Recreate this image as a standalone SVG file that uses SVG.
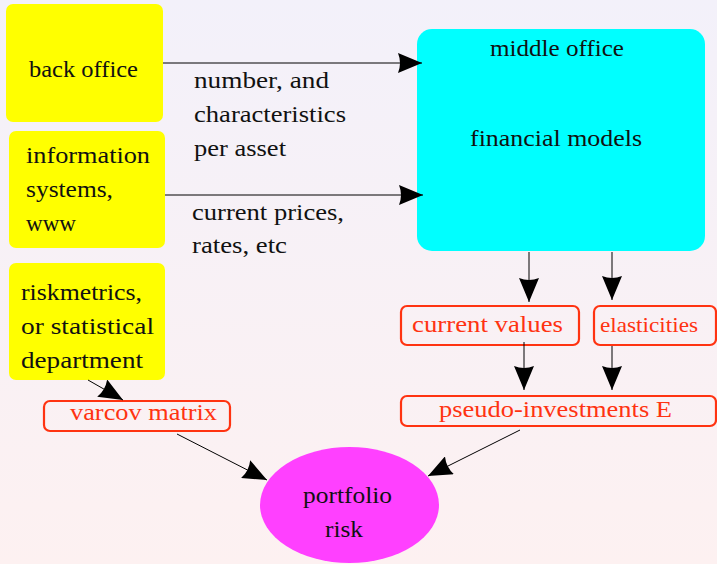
<svg xmlns="http://www.w3.org/2000/svg" width="717" height="564" viewBox="0 0 717 564" font-family="Liberation Serif" font-size="23.5">
<defs>
<linearGradient id="bg" x1="0" y1="0" x2="0" y2="1">
<stop offset="0" stop-color="#f3f1fa"/>
<stop offset="1" stop-color="#fdf1f1"/>
</linearGradient>
<marker id="ah" markerUnits="userSpaceOnUse" markerWidth="24" markerHeight="20" refX="24" refY="10" orient="auto" viewBox="0 0 24 20">
<path d="M0,0 L24,10 L0,20 Q4,10 0,0 z" fill="#000"/>
</marker>
<style>
text{fill:#111;}
.red text{fill:#ff3311;}
.ybox{fill:#ffff00;}
.rbox{fill:none;stroke:#ff3311;stroke-width:2.2;}
.conn line{stroke:#000;stroke-width:1;marker-end:url(#ah);}
</style>
</defs>
<rect x="0" y="0" width="717" height="564" fill="url(#bg)"/>

<g id="back-office">
<rect class="ybox" x="6" y="4" width="157" height="118" rx="7"/>
<text x="29" y="77" textLength="109" lengthAdjust="spacingAndGlyphs">back office</text>
</g>

<g id="information-systems">
<rect class="ybox" x="9" y="131" width="156" height="117" rx="7"/>
<text x="26" y="163" textLength="124" lengthAdjust="spacingAndGlyphs">information</text>
<text x="26" y="197" textLength="87" lengthAdjust="spacingAndGlyphs">systems,</text>
<text x="26" y="231" textLength="50" lengthAdjust="spacingAndGlyphs">www</text>
</g>

<g id="riskmetrics">
<rect class="ybox" x="9" y="263" width="156" height="117" rx="7"/>
<text x="21" y="300" textLength="121" lengthAdjust="spacingAndGlyphs">riskmetrics,</text>
<text x="21" y="334" textLength="133" lengthAdjust="spacingAndGlyphs">or statistical</text>
<text x="21" y="368" textLength="122" lengthAdjust="spacingAndGlyphs">department</text>
</g>

<g id="middle-office">
<rect x="417" y="29" width="288" height="222" rx="15" fill="#00ffff"/>
<text x="490" y="56" textLength="134" lengthAdjust="spacingAndGlyphs">middle office</text>
<text x="470" y="146" textLength="172" lengthAdjust="spacingAndGlyphs">financial models</text>
</g>

<g id="current-values" class="red">
<rect class="rbox" x="401" y="306" width="178" height="39" rx="6"/>
<text x="412" y="332" textLength="151" lengthAdjust="spacingAndGlyphs">current values</text>
</g>

<g id="elasticities" class="red">
<rect class="rbox" x="594" y="306" width="122" height="39" rx="6"/>
<text x="600" y="332" textLength="98" lengthAdjust="spacingAndGlyphs" font-size="21">elasticities</text>
</g>

<g id="pseudo-investments" class="red">
<rect class="rbox" x="401" y="396" width="315" height="30" rx="6"/>
<text x="439" y="417" textLength="233" lengthAdjust="spacingAndGlyphs">pseudo-investments E</text>
</g>

<g id="varcov-matrix" class="red">
<rect class="rbox" x="44" y="401" width="186" height="30" rx="6"/>
<text x="70" y="420" textLength="147" lengthAdjust="spacingAndGlyphs">varcov matrix</text>
</g>

<g id="portfolio-risk">
<ellipse cx="349.5" cy="505" rx="89.5" ry="58" fill="#ff40ff"/>
<text x="303" y="503" textLength="89" lengthAdjust="spacingAndGlyphs">portfolio</text>
<text x="325" y="537" textLength="38" lengthAdjust="spacingAndGlyphs">risk</text>
</g>

<g id="labels">
<text x="194" y="88" textLength="135" lengthAdjust="spacingAndGlyphs">number, and</text>
<text x="194" y="122" textLength="152" lengthAdjust="spacingAndGlyphs">characteristics</text>
<text x="194" y="156" textLength="92" lengthAdjust="spacingAndGlyphs">per asset</text>
<text x="192" y="220" textLength="152" lengthAdjust="spacingAndGlyphs">current prices,</text>
<text x="192" y="253" textLength="95" lengthAdjust="spacingAndGlyphs">rates, etc</text>
</g>

<g id="connectors" class="conn">
<line x1="163" y1="63" x2="422" y2="63"/>
<line x1="165" y1="195" x2="423" y2="195"/>
<line x1="529" y1="252" x2="529" y2="302"/>
<line x1="612" y1="252" x2="612" y2="300"/>
<line x1="524" y1="342" x2="524" y2="390"/>
<line x1="612" y1="346" x2="612" y2="390"/>
<line x1="88" y1="380" x2="123" y2="400"/>
<line x1="177" y1="434" x2="267" y2="480"/>
<line x1="520" y1="430" x2="428" y2="476"/>
</g>
</svg>
